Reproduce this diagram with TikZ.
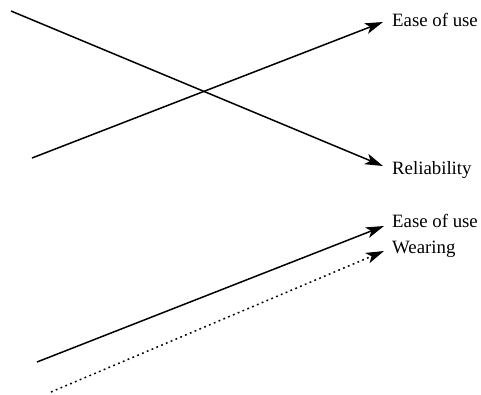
\documentclass[tikz,border=0pt]{standalone}
\usepackage{fontspec}
\setmainfont{Liberation Serif}
\usetikzlibrary{arrows.meta}
\begin{document}
\begin{tikzpicture}[x=1pt,y=-1pt,
  link/.style={line width=1.5pt,-{Stealth[length=18pt,width=11pt,inset=4.5pt]}},
  dotlink/.style={link,dash pattern=on 1.8pt off 3.4pt},
  lbl/.style={anchor=west,inner sep=0pt,font=\fontsize{18.8}{21}\selectfont}]
\useasboundingbox (0,0) rectangle (481,394);
% upper pair of crossing arrows
\coordinate (s1) at (11,11);
\coordinate (t1) at (383,166);
\coordinate (s2) at (32,158);
\coordinate (t2) at (383,22);
\node[lbl] (ease1) at (392,20) {Ease of use};
\node[lbl] (rel) at (392,170) {Reliability};
\draw[link] (s1) -- (t1);
\draw[link] (s2) -- (t2);
% lower pair of parallel arrows
\coordinate (s3) at (37,362);
\coordinate (t3) at (384,226);
\coordinate (s4) at (51,392);
\coordinate (t4) at (384,251);
\node[lbl] (ease2) at (392,221) {Ease of use};
\node[lbl] (wear) at (392,249) {Wearing};
\draw[link] (s3) -- (t3);
\draw[dotlink] (s4) -- (t4);
\end{tikzpicture}
\end{document}
